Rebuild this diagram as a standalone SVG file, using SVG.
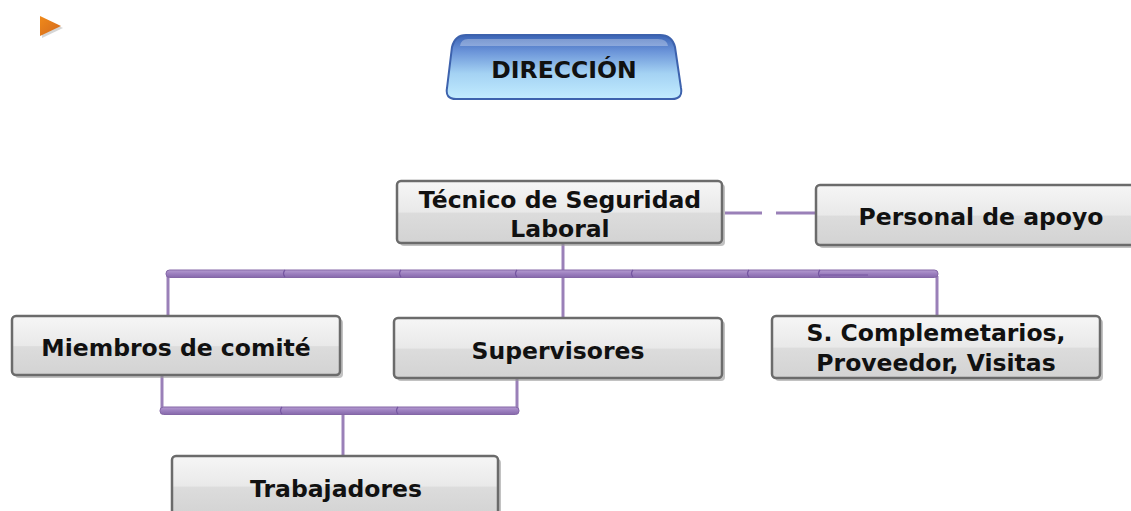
<svg xmlns="http://www.w3.org/2000/svg" width="1131" height="511" viewBox="0 0 1131 511">
<style>
.box{fill:url(#gray);stroke:#6b6b6b;stroke-width:2.5}
.shadow{fill:#9a9a9a;opacity:0.6}
.t{font-family:"DejaVu Sans",Verdana,sans-serif;font-weight:bold;font-size:23.5px;fill:#111;text-anchor:middle}
.ln{stroke:#9a80b8;stroke-width:3;fill:none}
.bar{fill:url(#purp);stroke:#8467a6;stroke-width:1}
.notch{stroke:#7455a0;stroke-width:1.2;fill:none}
</style>
<defs>
<linearGradient id="gray" x1="0" y1="0" x2="0" y2="1">
<stop offset="0" stop-color="#f6f6f6"/>
<stop offset="0.5" stop-color="#e9e9e9"/>
<stop offset="0.52" stop-color="#dcdcdc"/>
<stop offset="1" stop-color="#d3d3d3"/>
</linearGradient>
<linearGradient id="purp" x1="0" y1="0" x2="0" y2="1">
<stop offset="0" stop-color="#b49bd0"/>
<stop offset="0.5" stop-color="#9c7fbf"/>
<stop offset="1" stop-color="#8669ab"/>
</linearGradient>
<linearGradient id="blue" x1="0" y1="0" x2="0" y2="1">
<stop offset="0" stop-color="#3a63b5"/>
<stop offset="0.25" stop-color="#6a93d8"/>
<stop offset="0.6" stop-color="#a4d2f3"/>
<stop offset="1" stop-color="#c2ecff"/>
</linearGradient>
<linearGradient id="orange" x1="0" y1="0" x2="1" y2="1">
<stop offset="0" stop-color="#f08a1a"/>
<stop offset="1" stop-color="#d2691e"/>
</linearGradient>
</defs>

<g id="marker">
<polygon points="42,18 63,28 42,38" fill="#bbbbbb" opacity="0.6"/>
<polygon points="40,16 61,26 40,36" fill="url(#orange)"/>
</g>

<g id="direccion">
<path d="M466,35 L660,35 Q672,35 675,47 L681,88 Q683,99 672,99 L456,99 Q445,99 447,88 L452,47 Q455,35 466,35 Z" fill="url(#blue)" stroke="#3d62ad" stroke-width="2"/>
<path d="M468,39 L658,39 Q667,39 668,46 L460,46 Q461,39 468,39 Z" fill="#ffffff" opacity="0.3"/>
<text class="t" x="564" y="78" font-size="24">DIRECCIÓN</text>
</g>

<g id="connectors">
<line class="ln" x1="725" y1="213" x2="762" y2="213"/>
<line class="ln" x1="776" y1="213" x2="815" y2="213"/>
<line class="ln" x1="563" y1="244" x2="563" y2="317"/>
<line class="ln" x1="168" y1="276" x2="168" y2="316"/>
<line class="ln" x1="937" y1="276" x2="937" y2="316"/>
<rect class="bar" x="166" y="270" width="772" height="7.5" rx="3.5"/>
<path class="notch" d="M285,270 q-3,3.5 0,7 M401,270 q-3,3.5 0,7 M517,270 q-3,3.5 0,7 M633,270 q-3,3.5 0,7 M749,270 q-3,3.5 0,7 M820,270 q-3,3.5 0,7 M820,275 L868,275"/>
<line class="ln" x1="162" y1="376" x2="162" y2="410"/>
<line class="ln" x1="517" y1="379" x2="517" y2="410"/>
<line class="ln" x1="343" y1="414" x2="343" y2="456"/>
<rect class="bar" x="160" y="407" width="359" height="7.5" rx="3.5"/>
<path class="notch" d="M282,407 q-3,3.5 0,7 M398,407 q-3,3.5 0,7"/>
</g>

<g id="tecnico">
<rect class="shadow" x="400" y="184" width="325" height="62" rx="4"/>
<rect class="box" x="397" y="181" width="325" height="62" rx="4"/>
<text class="t" x="560" y="208">Técnico de Seguridad</text>
<text class="t" x="560" y="237">Laboral</text>
</g>

<g id="personal">
<rect class="shadow" x="819" y="188" width="320" height="60" rx="4"/>
<rect class="box" x="816" y="185" width="320" height="60" rx="4"/>
<text class="t" x="981" y="225">Personal de apoyo</text>
</g>

<g id="miembros">
<rect class="shadow" x="15" y="319" width="328" height="59" rx="4"/>
<rect class="box" x="12" y="316" width="328" height="59" rx="4"/>
<text class="t" x="176" y="356">Miembros de comité</text>
</g>

<g id="supervisores">
<rect class="shadow" x="397" y="321" width="328" height="60" rx="4"/>
<rect class="box" x="394" y="318" width="328" height="60" rx="4"/>
<text class="t" x="558" y="359">Supervisores</text>
</g>

<g id="complementarios">
<rect class="shadow" x="775" y="319" width="328" height="62" rx="4"/>
<rect class="box" x="772" y="316" width="328" height="62" rx="4"/>
<text class="t" x="936" y="341">S. Complemetarios,</text>
<text class="t" x="936" y="371">Proveedor, Visitas</text>
</g>

<g id="trabajadores">
<rect class="shadow" x="175" y="459" width="326" height="60" rx="4"/>
<rect class="box" x="172" y="456" width="326" height="60" rx="4"/>
<text class="t" x="336" y="497">Trabajadores</text>
</g>
</svg>
